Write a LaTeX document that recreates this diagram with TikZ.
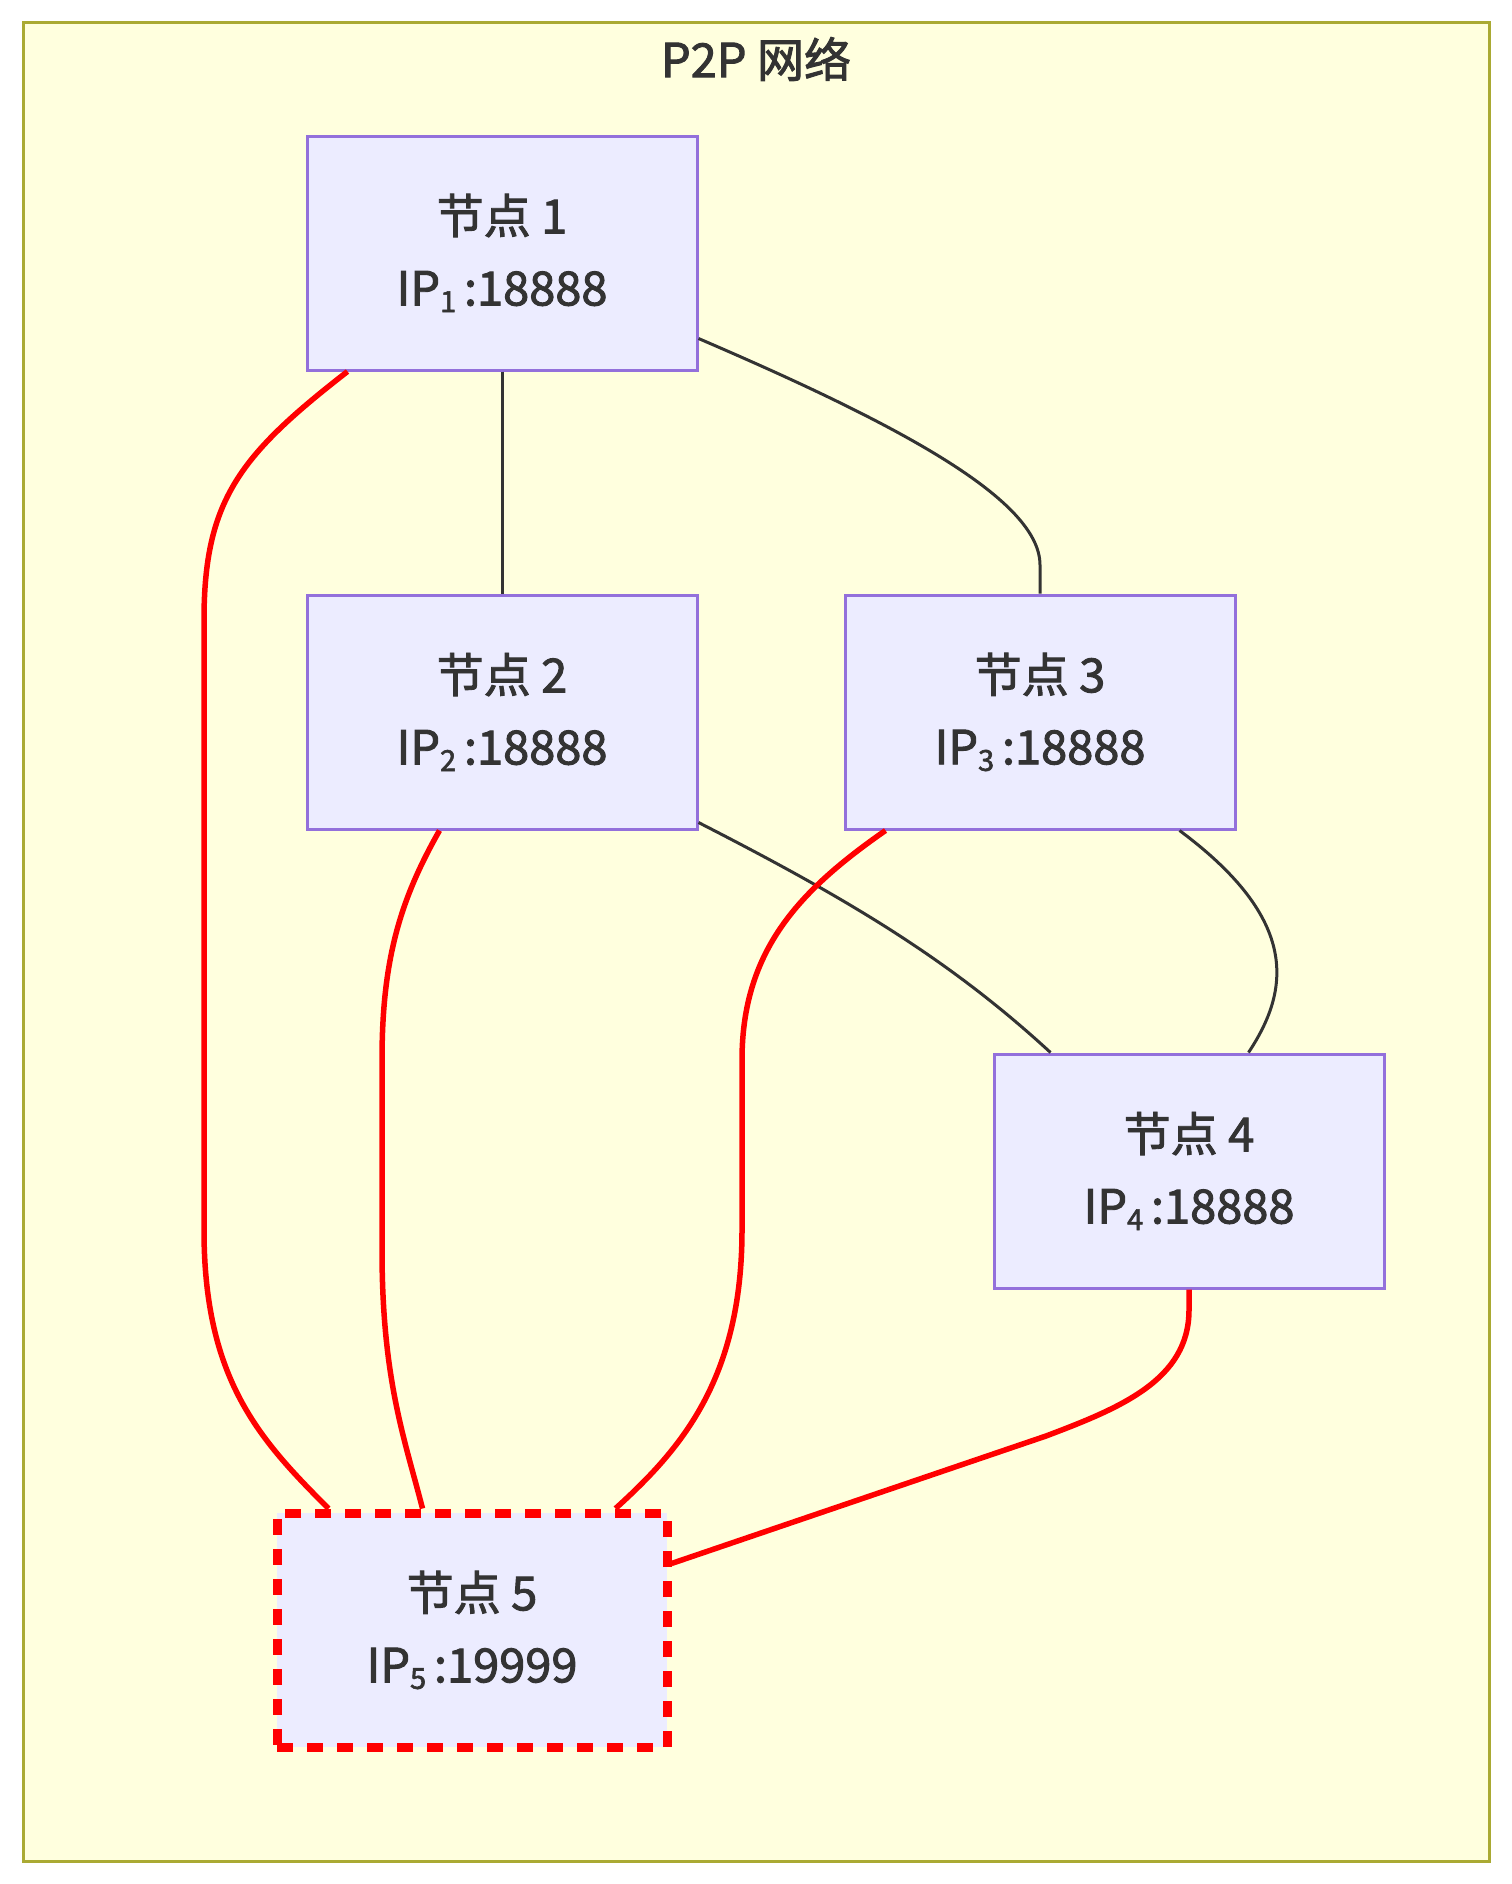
\documentclass[tikz,border=0pt]{standalone}
\usepackage{fontspec}
\setmainfont{Noto Sans CJK SC}[FakeBold=2]
\usetikzlibrary{calc}
\definecolor{clusterfill}{HTML}{FFFFDE}
\definecolor{clusterline}{HTML}{AAAA33}
\definecolor{peerfill}{HTML}{ECECFF}
\definecolor{peerline}{HTML}{9370DB}
\definecolor{inkgrey}{HTML}{333333}
\tikzset{
	peer/.style={draw=peerline, fill=peerfill, line width=3pt, minimum width=390pt, minimum height=234pt, inner sep=0pt, align=center, text=inkgrey, font=\fontsize{47}{72}\selectfont},
	newpeer/.style={peer, draw=red, line width=9pt, dash pattern=on 16pt off 14pt},
	link/.style={draw=inkgrey, line width=3pt},
	redlink/.style={draw=red, line width=5.5pt},
}
\newcommand{\ipport}[2]{IP\raisebox{-0.14em}{\fontsize{29}{29}\selectfont #1}\,:#2}

\begin{document}
\begin{tikzpicture}[x=1pt, y=-1pt]
			%%%%% START %%%%%
			\useasboundingbox (0, 0) rectangle (1512, 1884);
			
			\draw[draw=clusterline, fill=clusterfill, line width=3pt] (23, 23) rectangle (1489, 1861);
			\node[text=inkgrey, font=\fontsize{47}{52}\selectfont] (title) at (756, 59) {P2P 网络};
			
			\node[peer] (n1) at (502, 253) {节点 1\\\ipport{1}{18888}};
			\node[peer] (n2) at (502, 712) {节点 2\\\ipport{2}{18888}};
			\node[peer] (n3) at (1040, 712) {节点 3\\\ipport{3}{18888}};
			\node[peer] (n4) at (1189, 1171) {节点 4\\\ipport{4}{18888}};
			\node[newpeer] (n5) at (472, 1630) {节点 5\\\ipport{5}{19999}};
			
			% grey links
			\draw[link] (n1.south) -- (n2.north);
			\draw[link] ($(n1.south east)+(0,-33)$) .. controls (900, 425) and (1040, 500) .. (1040, 565) -- (n3.north);
			\draw[link] ($(n2.south east)+(0,-8)$) .. controls (850, 900) and (950, 960) .. ($(n4.north west)+(58,0)$);
			\draw[link] ($(n3.south east)+(-57,0)$) .. controls (1300, 920) and (1290, 990) .. ($(n4.north west)+(256,0)$);
			
			% red links to n5
			\draw[redlink] ($(n1.south west)+(42,0)$) .. controls (240, 455) and (204, 500) .. (204, 620) -- (204, 1230) .. controls (204, 1380) and (260, 1440) .. ($(n5.north west)+(56,0)$);
			\draw[redlink] ($(n2.south west)+(134,0)$) .. controls (400, 900) and (382, 960) .. (382, 1060) -- (382, 1250) .. controls (382, 1380) and (405, 1440) .. ($(n5.north west)+(150,0)$);
			\draw[redlink] ($(n3.south west)+(42,0)$) .. controls (800, 890) and (742, 950) .. (742, 1060) -- (742, 1230) .. controls (742, 1380) and (680, 1450) .. ($(n5.north east)+(-56,0)$);
			\draw[redlink] (n4.south) -- (1189, 1310) .. controls (1189, 1380) and (1120, 1408) .. (1046, 1436) -- ($(n5.north east)+(0,55)$);
			
			%%%%% END %%%%%
\end{tikzpicture}
\end{document}
